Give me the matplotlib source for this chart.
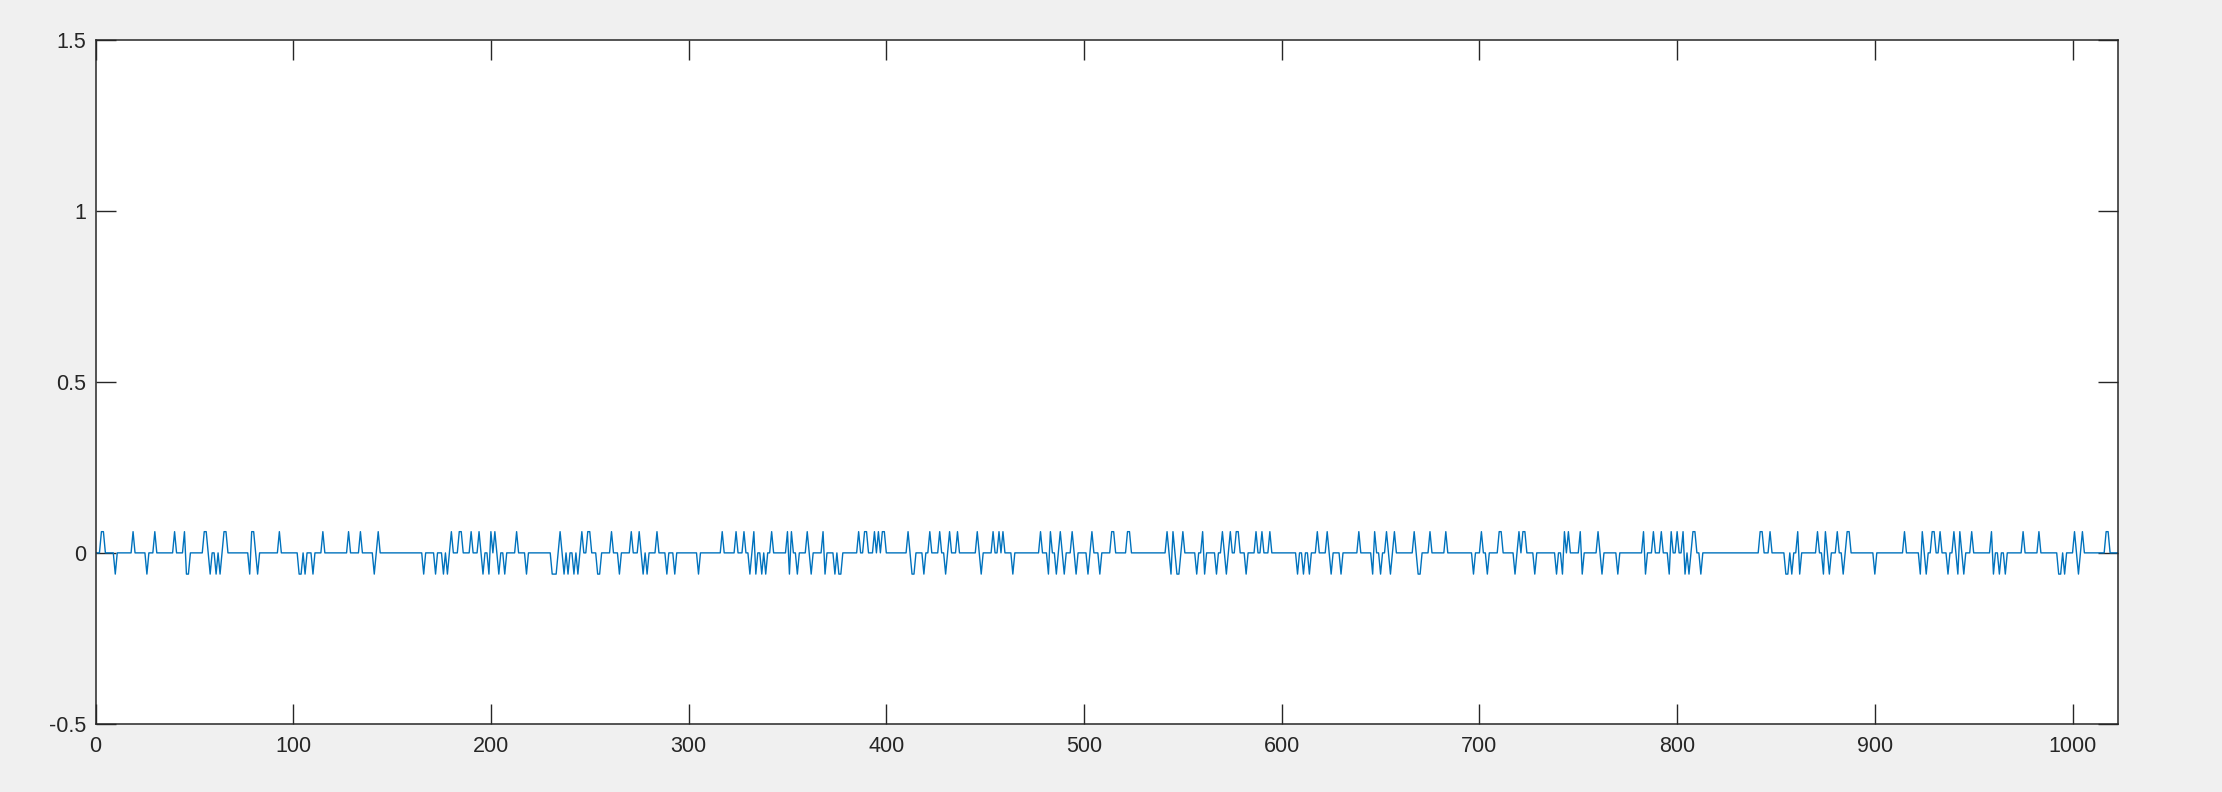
import numpy as np
import matplotlib
matplotlib.use("Agg")
import matplotlib.pyplot as plt

# ---- data ----
n_samples = 1024
amplitude = 0.062
pos_idx = [3, 4, 19, 30, 40, 45, 55, 56, 65, 66, 79, 80, 93, 115, 128, 134, 143,
           180, 184, 185, 190, 194, 200, 202, 213, 235, 246, 249, 250, 261, 271, 275,
           284, 317, 324, 328, 333, 342, 350, 352, 360, 368, 386, 389, 390, 394, 396,
           398, 399, 411, 422, 427, 432, 436, 446, 454, 457, 459, 478, 483, 488, 494,
           504, 514, 515, 522, 523, 542, 545, 550, 560, 570, 574, 577, 578, 587, 590,
           594, 618, 623, 639, 647, 653, 657, 667, 675, 683, 701, 710, 711, 720, 722,
           723, 743, 745, 751, 760, 783, 788, 792, 797, 800, 803, 808, 809, 842, 843,
           847, 861, 871, 875, 881, 886, 887, 915, 924, 929, 930, 933, 940, 943, 949,
           959, 975, 983, 1001, 1005, 1017, 1018]
neg_idx = [10, 26, 46, 47, 58, 61, 63, 78, 82, 103, 104, 106, 110, 141,
           166, 172, 176, 178, 196, 199, 204, 207, 218, 231, 232, 233, 237, 239, 242,
           244, 254, 255, 265, 277, 279, 289, 293, 305, 331, 334, 337, 339, 351, 355,
           362, 369, 374, 376, 377, 413, 414, 419, 430, 448, 464, 482, 486, 490, 496,
           502, 508, 544, 547, 548, 557, 561, 567, 572, 582, 608, 611, 614, 625, 630,
           646, 650, 655, 669, 670, 697, 704, 718, 728, 739, 742, 752, 762, 770, 784,
           796, 804, 806, 812, 855, 856, 858, 862, 874, 877, 884, 900, 923, 926, 937,
           942, 945, 960, 963, 966, 993, 994, 996, 1003]
x_ticks = [0, 100, 200, 300, 400, 500, 600, 700, 800, 900, 1000]
y_ticks = [-0.5, 0, 0.5, 1, 1.5]
y_ticklabels = ["-0.5", "0", "0.5", "1", "1.5"]

signal = np.zeros(n_samples)
signal[pos_idx] = amplitude
signal[neg_idx] = -amplitude
t = np.arange(n_samples)

# ---- figure ----
W, H, DPI = 2222, 792, 100
fig = plt.figure(figsize=(W / DPI, H / DPI), dpi=DPI, facecolor="#f0f0f0")
left, right = 95.5 / W, 2118 / W
bottom, top = (H - 724) / H, (H - 39.5) / H
ax = fig.add_axes([left, bottom, right - left, top - bottom])
ax.set_facecolor("white")

ax.plot(t, signal, color="#0072BD", linewidth=1.0)

ax.set_xlim(0, 1023)
ax.set_ylim(-0.5, 1.5)
ax.set_xticks(x_ticks)
ax.set_xticklabels([str(v) for v in x_ticks])
ax.set_yticks(y_ticks)
ax.set_yticklabels(y_ticklabels)

axis_col = "#262626"
for s in ax.spines.values():
    s.set_color(axis_col)
    s.set_linewidth(1.1)
ax.tick_params(axis="both", direction="in", length=14.4, width=1.0, color=axis_col,
               labelcolor=axis_col, labelsize=15.5, top=True, right=True)
ax.tick_params(axis="x", pad=9.0)
ax.tick_params(axis="y", pad=7.0)
for lab in ax.get_xticklabels() + ax.get_yticklabels():
    lab.set_fontfamily(["Liberation Sans", "DejaVu Sans"])

fig.savefig("out.png", dpi=DPI, facecolor=fig.get_facecolor())
